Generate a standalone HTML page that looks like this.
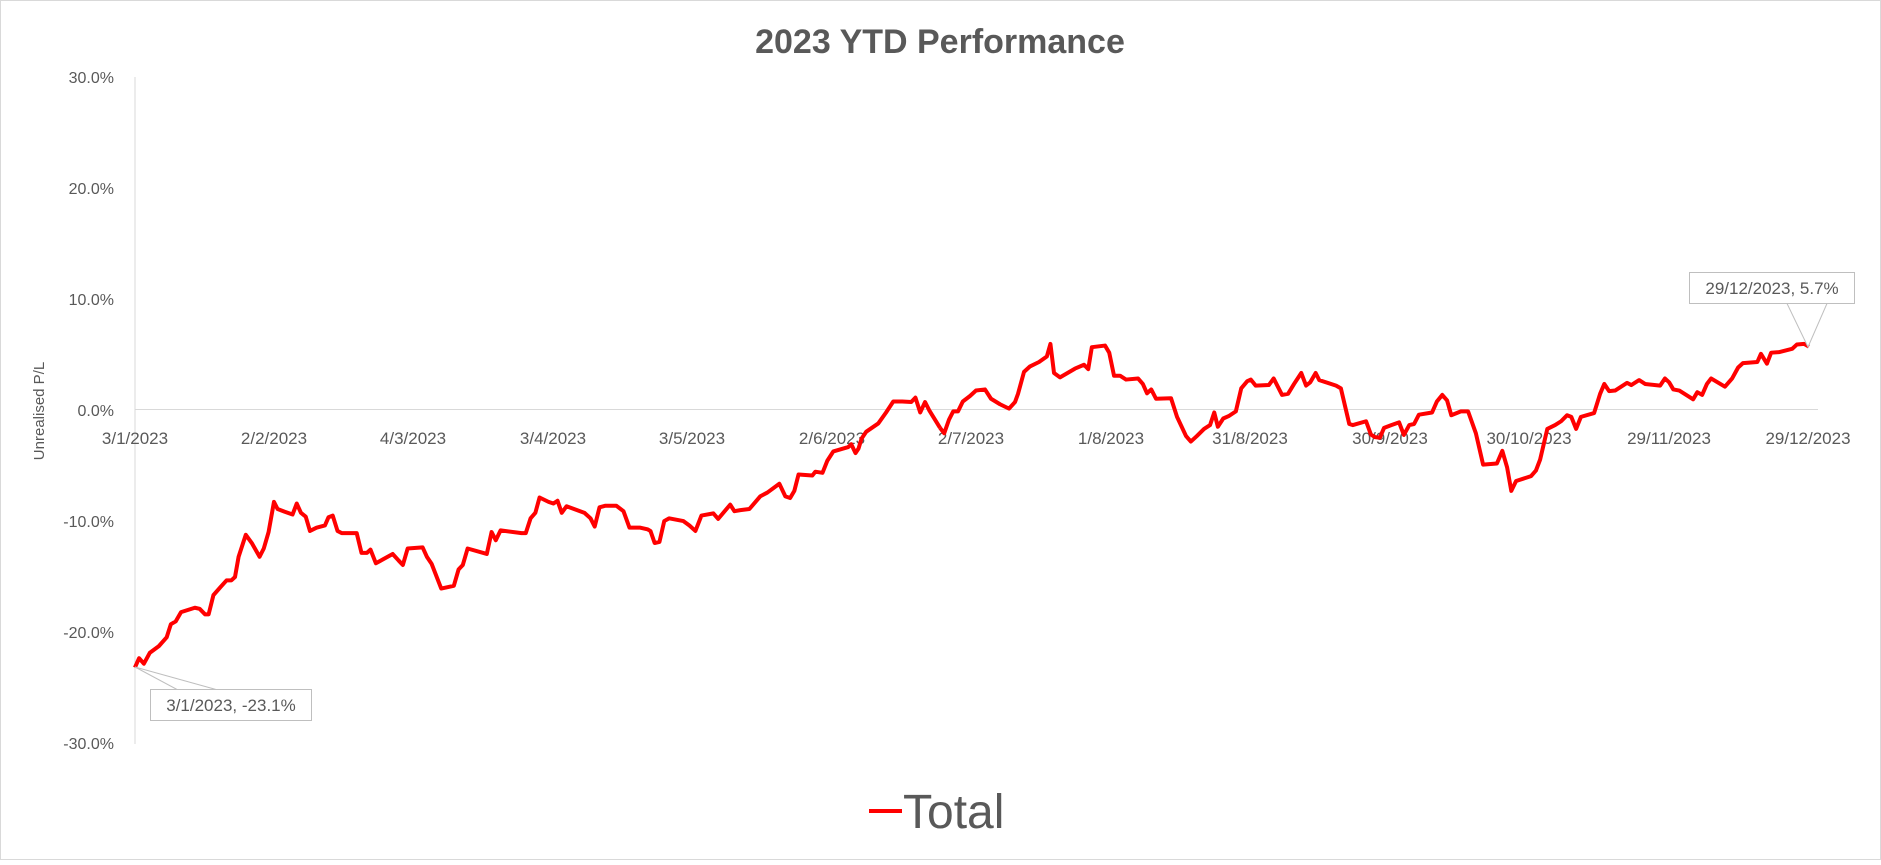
<!DOCTYPE html>
<html><head><meta charset="utf-8"><style>
html,body{margin:0;padding:0;background:#fff;}
svg text{font-family:"Liberation Sans",sans-serif;fill:#595959;}
</style></head><body>
<svg width="1881" height="860" viewBox="0 0 1881 860" xmlns="http://www.w3.org/2000/svg">
<rect x="0.5" y="0.5" width="1880" height="859" fill="#fff" stroke="#d9d9d9"/>
<text x="940" y="53" font-size="34" font-weight="bold" text-anchor="middle">2023 YTD Performance</text>
<line x1="135" y1="77" x2="135" y2="744" stroke="#d9d9d9"/>
<line x1="135" y1="409.5" x2="1818" y2="409.5" stroke="#d9d9d9"/>
<g font-size="16" text-anchor="end">
<text x="114" y="83">30.0%</text>
<text x="114" y="194">20.0%</text>
<text x="114" y="305">10.0%</text>
<text x="114" y="416">0.0%</text>
<text x="114" y="527">-10.0%</text>
<text x="114" y="638">-20.0%</text>
<text x="114" y="749">-30.0%</text>
</g>
<text transform="translate(44,411) rotate(-90)" font-size="15" text-anchor="middle">Unrealised P/L</text>
<g font-size="17" text-anchor="middle">
<text x="135" y="444">3/1/2023</text>
<text x="274" y="444">2/2/2023</text>
<text x="413" y="444">4/3/2023</text>
<text x="553" y="444">3/4/2023</text>
<text x="692" y="444">3/5/2023</text>
<text x="832" y="444">2/6/2023</text>
<text x="971" y="444">2/7/2023</text>
<text x="1111" y="444">1/8/2023</text>
<text x="1250" y="444">31/8/2023</text>
<text x="1390" y="444">30/9/2023</text>
<text x="1529" y="444">30/10/2023</text>
<text x="1669" y="444">29/11/2023</text>
<text x="1808" y="444">29/12/2023</text>
</g>
<g transform="scale(0.5995,0.5485)">
<polyline fill="none" stroke="#ff0000" stroke-width="4" vector-effect="non-scaling-stroke" stroke-linejoin="round" points="225,1217 232,1200 240,1210 250,1190 265,1178 278,1162 285,1138 293,1133 302,1116 325,1108 333,1110 342,1120 348,1120 356,1085 368,1070 378,1058 386,1058 392,1052 398,1015 410,975 420,990 433,1015 440,1000 448,970 457,915 463,928 475,933 488,938 495,918 502,935 510,942 517,968 528,962 542,958 548,943 555,940 563,968 570,972 595,972 603,1008 612,1008 618,1002 627,1027 655,1010 665,1022 672,1030 680,1000 705,998 712,1015 720,1028 736,1073 757,1068 765,1038 772,1030 780,1000 812,1010 820,970 827,985 835,967 870,972 877,972 885,945 893,935 900,907 915,915 923,918 930,913 937,935 945,923 975,935 985,945 992,960 1000,925 1010,922 1028,922 1040,932 1050,962 1068,962 1080,965 1085,968 1092,990 1100,988 1108,950 1116,945 1140,950 1150,958 1160,968 1170,940 1190,936 1198,946 1218,920 1225,932 1235,930 1250,928 1268,905 1280,898 1300,882 1310,905 1318,908 1325,895 1332,865 1355,867 1360,860 1372,862 1380,840 1390,823 1415,815 1420,810 1427,826 1432,818 1437,800 1445,787 1465,772 1478,752 1490,732 1505,732 1520,733 1527,725 1535,752 1543,733 1550,748 1568,780"/>
</g>
<g transform="translate(940,0) scale(0.6001,0.5485)">
<polyline fill="none" stroke="#ff0000" stroke-width="4" vector-effect="non-scaling-stroke" stroke-linejoin="round" points="0,780 7,790 15,765 22,750 30,750 38,732 50,722 60,712 75,710 85,727 100,737 115,745 125,733 130,718 140,678 150,668 165,660 178,650 184,627 190,680 200,688 225,672 240,665 247,673 253,633 275,630 282,643 290,685 300,685 310,692 330,690 338,700 345,717 352,710 360,727 385,726 395,760 410,795 418,805 428,795 440,782 450,775 457,752 463,778 472,763 482,758 493,750 502,708 512,695 518,692 526,703 548,702 556,690 570,720 580,718 590,700 602,680 610,703 617,697 626,680 632,693 660,703 668,708 682,773 688,775 710,768 718,792 725,797 733,798 740,780 752,775 765,770 773,793 782,775 790,773 798,756 820,752 828,732 837,720 845,730 852,757 868,750 880,750 893,790 905,847 928,845 937,822 945,852 952,895 960,877 985,868 993,858 1000,838 1012,782 1025,775 1035,768 1045,757 1052,760 1060,782 1068,760 1090,753 1100,718 1107,700 1115,713 1125,712 1145,698 1152,702 1165,693 1175,700 1200,703 1208,690 1215,697 1222,710 1232,712 1255,728 1262,715 1270,720 1278,700 1285,690 1308,705 1320,690 1330,670 1338,662 1362,660 1368,645 1378,663 1385,643 1398,642 1420,636 1428,628 1440,627 1448,632"/>
</g>
<!-- annotations -->
<polygon points="135,667 177,689.5 216,689.5" fill="#fff" stroke="#bfbfbf"/>
<rect x="150.5" y="689.5" width="161" height="31" fill="#fff" stroke="#bfbfbf"/>
<text x="231" y="711" font-size="17" text-anchor="middle">3/1/2023, -23.1%</text>
<polygon points="1808,347 1787,303.5 1827,303.5" fill="#fff" stroke="#bfbfbf"/>
<rect x="1689.5" y="272.5" width="165" height="31" fill="#fff" stroke="#bfbfbf"/>
<text x="1772" y="294" font-size="17" text-anchor="middle">29/12/2023, 5.7%</text>
<!-- legend -->
<line x1="869" y1="811" x2="902" y2="811" stroke="#ff0000" stroke-width="4"/>
<text x="903" y="828" font-size="48">Total</text>
</svg>
</body></html>
